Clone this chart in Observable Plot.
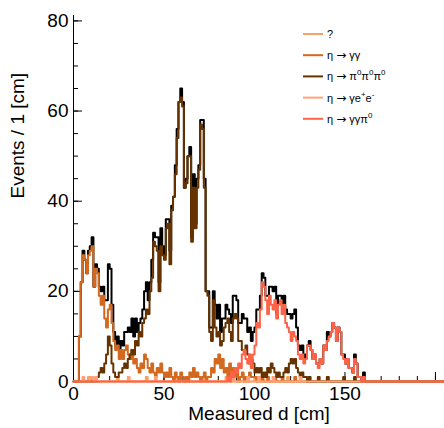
<!DOCTYPE html>
<html><head><meta charset="utf-8">
<script src="https://cdn.jsdelivr.net/npm/d3@7"></script>
<script src="https://cdn.jsdelivr.net/npm/@observablehq/plot@0.6"></script>
<style>
html,body{margin:0;padding:0;background:#fff;}
#chart{width:444px;height:428px;}
</style></head><body><div id="chart"></div>
<script>
// Series names and colours (drawing order = legend order)
const seriesNames = ["?", "η → γγ", "η → π0π0π0", "η → γe+e-", "η → γγπ0"];
const seriesColors = ["#f4a460", "#d2691e", "#663300", "#ffa07a", "#ff6347"];
const totalColor = "#000000";

// Bin contents, 1 cm bins starting at 0 cm
const unknown = [
0,0,0,0,0,0,0,0,1,0, 1,0,0,0,0,0,0,0,0,0, 0,0,0,0,1,0,0,0,0,0, 0,0,0,0,0,0,0,0,0,0,
1,0,0,0,0,0,0,0,0,0, 0,0,0,0,0,0,0,1,0,0, 0,0,0,0,0,0,0,0,0,0, 1,1,0,0,0,0,0,0,0,0,
0,0,0,0,1,0,0,0,0,0, 0,0,0,0,0,0,0,0,0,0, 1,0,0,0,0,0,0,0,0,0, 0,0,0,0,0,0,0,0,1,0,
0,0,0,0,0,0,0,0,0,0, 0,0,0,0,0,0,0,0,0,0, 1,0,0,0,0,0,0,0,0,0, 0,0,0,0,0,0,0,0,0,0,
0,0,0,0,0,0];
const etaGG = [
0,0,0,10,22,28,27,24,28,29, 30,21,25,24,19,17,19,14,12,16, 17,13,9,7,8,5,7,5,7,8,
6,5,7,4,5,3,2,4,3,6, 5,3,2,4,2,1,3,2,4,2, 1,2,1,3,1,0,2,1,0,2, 1,0,1,0,2,1,3,1,2,1,
0,1,2,0,1,1,3,2,5,4, 6,3,5,2,3,1,4,2,3,1, 2,0,1,2,0,1,0,2,1,1, 1,0,1,0,1,0,0,1,0,0,
0,1,0,0,0,1,0,0,0,0, 0,0,1,0,0,0,0,0,0,0, 0,0,0,0,0,0,0,0,0,0, 0,0,0,0,0,0,0,0,0,0,
0,0,0,0,0,0,0,0,0,0, 0,0,0,0,0,0];
const eta3Pi0 = [
0,0,0,0,0,0,0,0,0,0, 0,0,0,1,2,3,2,4,6,10, 8,4,2,1,1,2,2,3,4,3,
5,6,7,6,9,8,11,10,13,14, 16,15,20,23,31,30,29,20,30,28, 27,34,35,26,38,41,46,54,62,63,
61,43,44,50,50,31,43,34,43,47, 57,56,43,20,19,11,9,18,12,10, 11,8,9,12,13,14,11,9,14,15,
14,9,9,7,7,8,6,4,5,4, 2,3,2,3,1,2,1,3,2,4, 3,2,1,2,1,1,2,3,2,4,
5,4,5,3,2,1,2,1,1,0, 1,0,0,0,0,1,0,0,0,0, 1,0,0,0,0,0,0,0,0,1, 0,0,0,0,0,1,0,0,0,0,
1,0,0,0,0,0];
const etaGEE = [
0,0,0,0,0,1,0,0,0,1, 1,0,1,0,0,0,0,0,0,0, 0,0,0,0,0,0,0,0,0,0, 1,0,0,0,0,0,0,0,0,0,
0,0,0,0,0,1,0,0,0,0, 0,0,0,0,0,0,0,0,0,0, 0,0,0,0,0,0,0,0,0,0, 0,0,0,0,0,0,0,0,0,0,
0,0,0,0,0,0,0,0,1,0, 0,0,0,0,0,0,1,0,0,0, 0,0,1,0,0,0,0,0,0,0, 1,0,0,0,0,0,0,0,0,0,
0,0,0,0,0,1,0,0,0,0, 0,0,0,0,0,0,0,0,0,0, 0,0,0,0,0,0,0,0,0,0, 0,0,0,0,0,0,0,0,0,0,
0,0,0,0,0,0];
const etaGGPi0 = [
0,0,0,0,0,0,0,0,0,0, 0,0,0,0,0,0,0,0,0,0, 0,0,0,0,0,0,0,0,0,0, 0,0,0,0,0,0,0,0,0,0,
0,0,0,0,0,0,0,0,0,0, 0,0,0,0,0,0,0,0,0,0, 0,0,0,0,0,0,0,0,0,0, 0,0,0,0,0,0,0,0,0,0,
0,0,0,0,0,1,0,2,1,3, 2,4,3,6,7,5,4,6,3,6, 8,13,12,16,22,21,18,15,19,17,
16,18,14,17,18,15,17,13,12,11, 9,11,10,9,6,5,6,4,5,8, 8,7,5,6,4,3,5,4,8,7,
9,10,11,13,12,9,12,11,6,5, 4,5,3,3,2,5,4,1,1,0, 1,0,0,0,0,0];

const nBins = 205;           // histogram range 0 – 205 cm
const xLabelTicks = [0, 50, 100, 150];
const xMajorTicks = [0, 50, 100, 150, 200];
const xMinorTicks = d3.range(0, 206, 10);
const yMajorTicks = [0, 20, 40, 60, 80];
const yMinorTicks = d3.range(0, 81, 5);
const yMax = 81.2;

const series = [unknown, etaGG, eta3Pi0, etaGEE, etaGGPi0];
const padded = series.map(a => d3.range(nBins).map(i => a[i] ?? 0));
const total = d3.range(nBins).map(i => d3.sum(padded, a => a[i]));

function steps(a) {
  const pts = [{x: 0, y: 0}];
  a.forEach((v, i) => pts.push({x: i, y: v}));
  pts.push({x: a.length, y: a[a.length - 1]});
  pts.push({x: a.length, y: 0});
  return pts;
}

const font = "'Liberation Sans', Arial, Helvetica, sans-serif";
const histMarks = [Plot.line(steps(total), {x: "x", y: "y", curve: "step-after", stroke: totalColor, strokeWidth: 2})];
padded.forEach((a, k) => histMarks.push(
  Plot.line(steps(a), {x: "x", y: "y", curve: "step-after", stroke: seriesColors[k], strokeWidth: 2})));

const chart = Plot.plot({
  width: 444, height: 428,
  marginLeft: 73, marginRight: 0, marginTop: 15, marginBottom: 47,
  x: {domain: [0, nBins]},
  y: {domain: [0, yMax]},
  style: {fontFamily: font, fontSize: "19px", background: "white", color: "black"},
  marks: [
    Plot.axisX(xMinorTicks, {tickSize: -5, tickFormat: () => "", label: null}),
    Plot.axisX(xMajorTicks, {tickSize: -9, tickFormat: () => "", label: null}),
    Plot.axisX(xLabelTicks, {tickSize: 0, tickPadding: 5, fontSize: 19, label: null}),
    Plot.axisY(yMinorTicks, {tickSize: -5, tickFormat: () => "", label: null}),
    Plot.axisY(yMajorTicks, {tickSize: -9, tickFormat: () => "", label: null}),
    Plot.axisY(yMajorTicks, {tickSize: 0, tickPadding: 5, fontSize: 19, label: null}),
    Plot.ruleX([0], {stroke: "black"}),
    Plot.ruleY([0], {stroke: "black"}),
    ...histMarks,
    Plot.text(["Events / 1 [cm]"], {frameAnchor: "left", dx: -56, rotate: -90, fontSize: 19}),
    Plot.text(["Measured d [cm]"], {frameAnchor: "bottom", dy: 38, fontSize: 19})
  ]
});
document.getElementById("chart").appendChild(chart);

// Legend
const svg = d3.select(chart);
const leg = svg.append("g").attr("font-family", font).attr("font-size", 11).attr("text-anchor", "start");
const legendParts = [
  [["?", null]],
  [["η ", null], ["→", "arrow"], [" γγ", null]],
  [["η ", null], ["→", "arrow"], [" π", null], ["0", "sup"], ["π", null], ["0", "sup"], ["π", null], ["0", "sup"]],
  [["η ", null], ["→", "arrow"], [" γe", null], ["+", "sup"], ["e", null], ["-", "sup"]],
  [["η ", null], ["→", "arrow"], [" γγπ", null], ["0", "sup"]]
];
legendParts.forEach((parts, k) => {
  const y = 34 + k * 21.2;
  leg.append("line").attr("x1", 303).attr("x2", 323).attr("y1", y).attr("y2", y)
    .attr("stroke", seriesColors[k]).attr("stroke-width", 2);
  const t = leg.append("text").attr("x", 327).attr("y", y + 4).attr("fill", "black")
    .attr("text-anchor", "start");
  let prevSup = false;
  parts.forEach(([s, kind]) => {
    const ts = t.append("tspan").text(s);
    if (kind === "sup") { ts.attr("font-size", 8).attr("dy", prevSup ? 0 : -5); prevSup = true; }
    else {
      ts.attr("dy", prevSup ? 5 : 0); prevSup = false;
      if (kind === "arrow") ts.attr("font-family", "'DejaVu Sans', sans-serif").attr("font-size", 12);
    }
  });
});
</script>
</body></html>
